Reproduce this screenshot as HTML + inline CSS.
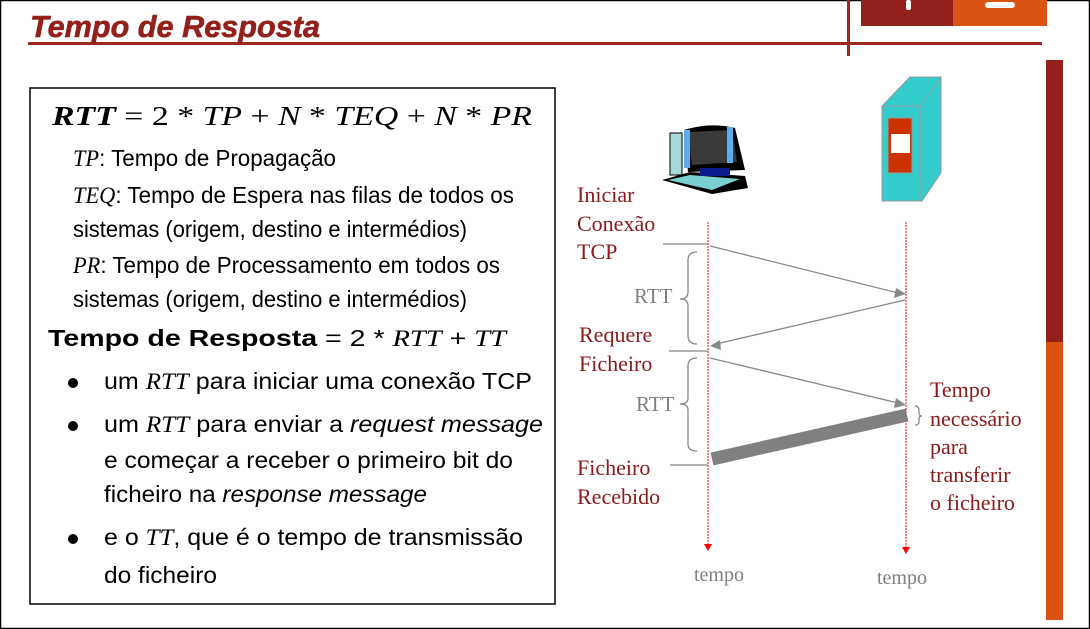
<!DOCTYPE html>
<html><head><meta charset="utf-8"><style>
html,body{margin:0;padding:0;background:#fff}
svg{display:block}
.b{font-family:"Liberation Sans Narrow","Liberation Sans",sans-serif;font-size:23px;fill:#000}
.m{font-family:"Liberation Serif",serif;font-style:italic}
.r{font-family:"Liberation Serif",serif;font-size:22px;fill:#8b1a1a}
.g{font-family:"Liberation Serif",serif;fill:#808080}
</style></head><body>
<svg width="1090" height="629" viewBox="0 0 1090 629" xmlns="http://www.w3.org/2000/svg">
<rect x="0.5" y="0.5" width="1089" height="628" fill="#fff" stroke="#000" stroke-width="1.5"/>
<rect x="861" y="0" width="92" height="26" fill="#93201b"/>
<rect x="953" y="0" width="94" height="26" fill="#db5416"/>
<rect x="906" y="0" width="5" height="10" rx="2" fill="#fff"/>
<rect x="985" y="2" width="30" height="6" rx="3" fill="#fff"/>
<rect x="28" y="42" width="1014" height="3" fill="#9b2a22"/>
<rect x="847" y="0" width="3" height="56" fill="#9b2a22"/>
<text x="30" y="37" font-family="Liberation Sans,sans-serif" font-weight="bold" font-style="italic" font-size="31" fill="#93201b" stroke="#93201b" stroke-width="0.6" textLength="290" lengthAdjust="spacingAndGlyphs">Tempo de Resposta</text>
<rect x="1046" y="60" width="17" height="282" fill="#93201b"/>
<rect x="1046" y="342" width="17" height="278" fill="#db5416"/>
<rect x="30" y="88" width="525" height="516" fill="#fff" stroke="#000" stroke-width="1.5"/>
<text x="52" y="125" font-family="Liberation Serif,serif" font-size="27" textLength="480" lengthAdjust="spacingAndGlyphs"><tspan font-weight="bold" font-style="italic">RTT</tspan>  =  2 * <tspan font-style="italic">TP</tspan>  +  <tspan font-style="italic">N</tspan> * <tspan font-style="italic">TEQ</tspan>  +  <tspan font-style="italic">N</tspan> * <tspan font-style="italic">PR</tspan></text>
<text class="b" x="73" y="166" textLength="263" lengthAdjust="spacingAndGlyphs"><tspan class="m">TP</tspan>: Tempo de Propagação</text>
<text class="b" x="73" y="203" textLength="441" lengthAdjust="spacingAndGlyphs"><tspan class="m">TEQ</tspan>: Tempo de Espera nas filas de todos os</text>
<text class="b" x="73" y="237" textLength="394" lengthAdjust="spacingAndGlyphs">sistemas (origem, destino e intermédios)</text>
<text class="b" x="73" y="273" textLength="427" lengthAdjust="spacingAndGlyphs"><tspan class="m">PR</tspan>: Tempo de Processamento em todos os</text>
<text class="b" x="73" y="307" textLength="394" lengthAdjust="spacingAndGlyphs">sistemas (origem, destino e intermédios)</text>
<text class="b" x="48" y="346" font-size="25" textLength="458" lengthAdjust="spacingAndGlyphs"><tspan font-weight="bold">Tempo de Resposta</tspan> =  2 * <tspan class="m">RTT</tspan> + <tspan class="m">TT</tspan></text>
<circle cx="73" cy="383" r="5" fill="#000"/>
<circle cx="73" cy="426" r="5" fill="#000"/>
<circle cx="73" cy="539" r="5" fill="#000"/>
<text class="b" x="104" y="389" textLength="428" lengthAdjust="spacingAndGlyphs">um <tspan class="m">RTT</tspan> para iniciar uma conexão TCP</text>
<text class="b" x="104" y="432" textLength="439" lengthAdjust="spacingAndGlyphs">um <tspan class="m">RTT</tspan> para enviar a <tspan font-style="italic">request message</tspan></text>
<text class="b" x="104" y="468" textLength="409" lengthAdjust="spacingAndGlyphs">e começar a receber o primeiro bit do</text>
<text class="b" x="104" y="502" textLength="323" lengthAdjust="spacingAndGlyphs">ficheiro na <tspan font-style="italic">response message</tspan></text>
<text class="b" x="104" y="545" textLength="419" lengthAdjust="spacingAndGlyphs">e o <tspan class="m">TT</tspan>, que é o tempo de transmissão</text>
<text class="b" x="104" y="583" textLength="113" lengthAdjust="spacingAndGlyphs">do ficheiro</text>
<g>
<rect x="670" y="133" width="12" height="42" fill="#a8d8d8" stroke="#000"/>
<path d="M684 130 Q710 122 735 128 L745 170 L688 172 Z" fill="#000"/>
<path d="M688 132 L732 130 L737 162 L692 165 Z" fill="#3a3a3a"/>
<rect x="684" y="130" width="6" height="38" fill="#5ab0ee"/>
<rect x="727" y="127" width="6" height="36" fill="#5ab0ee"/>
<path d="M662 180 L690 172 L745 176 L748 188 L712 194 Z" fill="#000"/>
<path d="M668 180 L690 175 L740 179 L712 190 Z" fill="#7ccfcf"/>
<rect x="700" y="168" width="30" height="8" fill="#0a1a8a"/>
</g>
<polygon points="882,106 910,77 941,77 941,173 922,201 882,201" fill="#33cccc" stroke="#999" stroke-width="1"/>
<polyline points="882,106 920,106 941,77" fill="none" stroke="#999"/>
<line x1="920" y1="106" x2="920" y2="201" stroke="#999"/>
<rect x="888" y="118" width="24" height="55" fill="#cc3300" stroke="#999"/>
<rect x="891" y="134" width="19" height="19" fill="#fff"/>
<line x1="708" y1="222" x2="708" y2="545" stroke="#f00" stroke-width="1" stroke-dasharray="2,1"/>
<line x1="906" y1="222" x2="906" y2="548" stroke="#f00" stroke-width="1" stroke-dasharray="2,1"/>
<polygon points="704,544 712,544 708,551" fill="#f00"/>
<polygon points="902,547 910,547 906,554" fill="#f00"/>
<g stroke="#888" stroke-width="1.3" fill="none">
<line x1="663" y1="244" x2="708" y2="244"/>
<line x1="669" y1="351" x2="708" y2="351"/>
<line x1="670" y1="465" x2="708" y2="465"/>
<line x1="710" y1="246" x2="898" y2="293"/>
<line x1="905" y1="300" x2="716" y2="344"/>
<line x1="710" y1="358" x2="898" y2="403"/>
<path d="M697 252 Q688 252 688 260 L688 292 Q688 299 680 299 Q688 299 688 306 L688 336 Q688 344 697 344"/>
<path d="M697 358 Q688 358 688 366 L688 398 Q688 404 680 404 Q688 404 688 410 L688 444 Q688 451 697 451"/>
<path d="M915 406 Q919 406 919 410 L919 413 Q919 416 922 416 Q919 416 919 419 L919 422 Q919 425 915 425"/>
</g>
<polygon points="906,294 896,288 894,298" fill="#888"/>
<polygon points="710,346 720,340 721,350" fill="#888"/>
<polygon points="906,405 896,398 894,408" fill="#888"/>
<line x1="712" y1="459" x2="907" y2="415" stroke="#808080" stroke-width="13"/>
<text class="r" x="577" y="202">Iniciar</text>
<text class="r" x="577" y="231">Conexão</text>
<text class="r" x="577" y="259">TCP</text>
<text class="r" x="579" y="342">Requere</text>
<text class="r" x="579" y="371">Ficheiro</text>
<text class="r" x="577" y="475">Ficheiro</text>
<text class="r" x="577" y="504">Recebido</text>
<text class="r" x="930" y="397">Tempo</text>
<text class="r" x="930" y="426">necessário</text>
<text class="r" x="930" y="454">para</text>
<text class="r" x="930" y="482">transferir</text>
<text class="r" x="930" y="510">o ficheiro</text>
<text class="g" x="634" y="303" font-size="21">RTT</text>
<text class="g" x="636" y="411" font-size="21">RTT</text>
<text class="g" x="694" y="581" font-size="20">tempo</text>
<text class="g" x="877" y="584" font-size="20">tempo</text>
</svg>
</body></html>
